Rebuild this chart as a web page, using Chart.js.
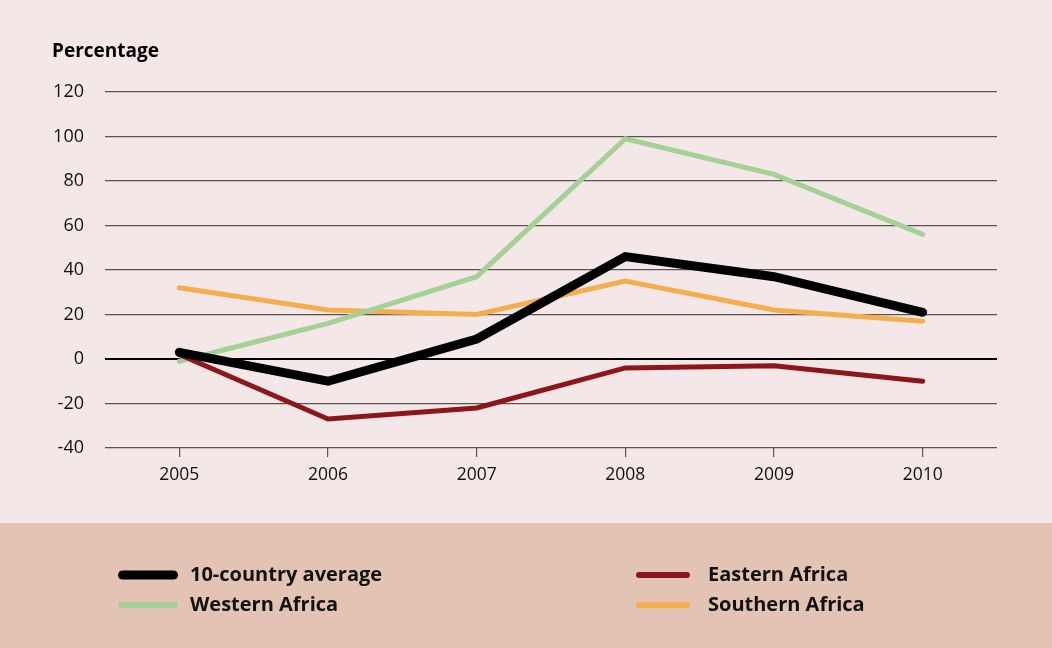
<!DOCTYPE html>
<html><head><meta charset="utf-8">
<script src="https://cdn.jsdelivr.net/npm/chart.js@4/dist/chart.umd.min.js"></script>
<style>html,body{margin:0;padding:0;background:#f4e7e7;}canvas{display:block;}</style>
</head><body>
<div style="width:1052px;height:648px;"><canvas id="c" width="1052" height="648"></canvas></div>
<script>
const years = ['2005','2006','2007','2008','2009','2010'];
const avg10 = [3, -10, 9, 46, 37, 21];
const western = [-1, 16, 37, 99, 83, 56];
const eastern = [2, -27, -22, -4, -3, -10];
const southern = [32, 22, 20, 35, 22, 17];
const yMin = -40, yMax = 120, yStep = 20;
const axisTitle = 'Percentage';
const FONT = '"Open Sans", "Noto Sans", sans-serif';

const bgPlugin = {
  id: 'bg',
  beforeDraw(chart) {
    const ctx = chart.ctx;
    ctx.save();
    ctx.fillStyle = '#f4e7e7';
    ctx.fillRect(0, 0, chart.width, chart.height);
    ctx.fillStyle = '#e3c3b3';
    ctx.fillRect(0, 523, chart.width, chart.height - 523);
    ctx.fillStyle = '#000';
    ctx.font = 'bold 19px ' + FONT;
    ctx.textBaseline = 'middle';
    ctx.textAlign = 'left';
    ctx.fillText(axisTitle, 52, 52);
    ctx.restore();
  },
  afterDraw(chart) {
    const ctx = chart.ctx;
    const pos = [[118, 178, 190, 575], [118, 178, 190, 605], [636, 690, 708, 575], [636, 690, 708, 605]];
    ctx.save();
    chart.data.datasets.forEach((ds, i) => {
      const p = pos[i];
      ctx.strokeStyle = ds.borderColor;
      ctx.lineWidth = ds.legendWidth;
      ctx.lineCap = 'round';
      ctx.beginPath();
      ctx.moveTo(p[0] + ds.legendWidth / 2, p[3]);
      ctx.lineTo(p[1] - ds.legendWidth / 2, p[3]);
      ctx.stroke();
      ctx.fillStyle = '#111';
      ctx.font = 'bold 20px ' + FONT;
      ctx.textBaseline = 'middle';
      ctx.textAlign = 'left';
      ctx.fillText(ds.label, p[2], p[3]);
    });
    ctx.restore();
  }
};

new Chart(document.getElementById('c'), {
  type: 'line',
  data: {
    labels: years,
    datasets: [
      {label: '10-country average', data: avg10, borderColor: '#000000', borderWidth: 9, legendWidth: 9, order: 1},
      {label: 'Western Africa', data: western, borderColor: '#a6d196', borderWidth: 5, legendWidth: 6, order: 3},
      {label: 'Eastern Africa', data: eastern, borderColor: '#8c161c', borderWidth: 5, legendWidth: 6, order: 2},
      {label: 'Southern Africa', data: southern, borderColor: '#f5ae4e', borderWidth: 5, legendWidth: 6, order: 4}
    ].map(d => Object.assign(d, {pointRadius: 0, tension: 0, fill: false, borderCapStyle: 'round', borderJoinStyle: 'miter'}))
  },
  options: {
    responsive: false,
    animation: false,
    devicePixelRatio: 1,
    layout: {padding: {left: 0, right: 55, top: 92, bottom: 160}},
    plugins: {legend: {display: false}, tooltip: {enabled: false}, title: {display: false}},
    scales: {
      x: {
        offset: true,
        border: {display: false},
        grid: {drawOnChartArea: false, drawTicks: true, tickLength: 9, color: '#555', lineWidth: 1.2},
        ticks: {color: '#111', font: {family: FONT, size: 17.5}, padding: 8, maxRotation: 0},
        afterFit(s) { s.height = 40; }
      },
      y: {
        min: yMin, max: yMax,
        border: {display: false},
        grid: {
          drawTicks: false,
          color: c => c.tick.value === 0 ? '#000' : '#5a5252',
          lineWidth: c => c.tick.value === 0 ? 2 : 1.3
        },
        ticks: {stepSize: yStep, color: '#111', font: {family: FONT, size: 18}, padding: 21},
        afterFit(s) { s.width = 105; }
      }
    }
  },
  plugins: [bgPlugin]
});
</script>
</body></html>
